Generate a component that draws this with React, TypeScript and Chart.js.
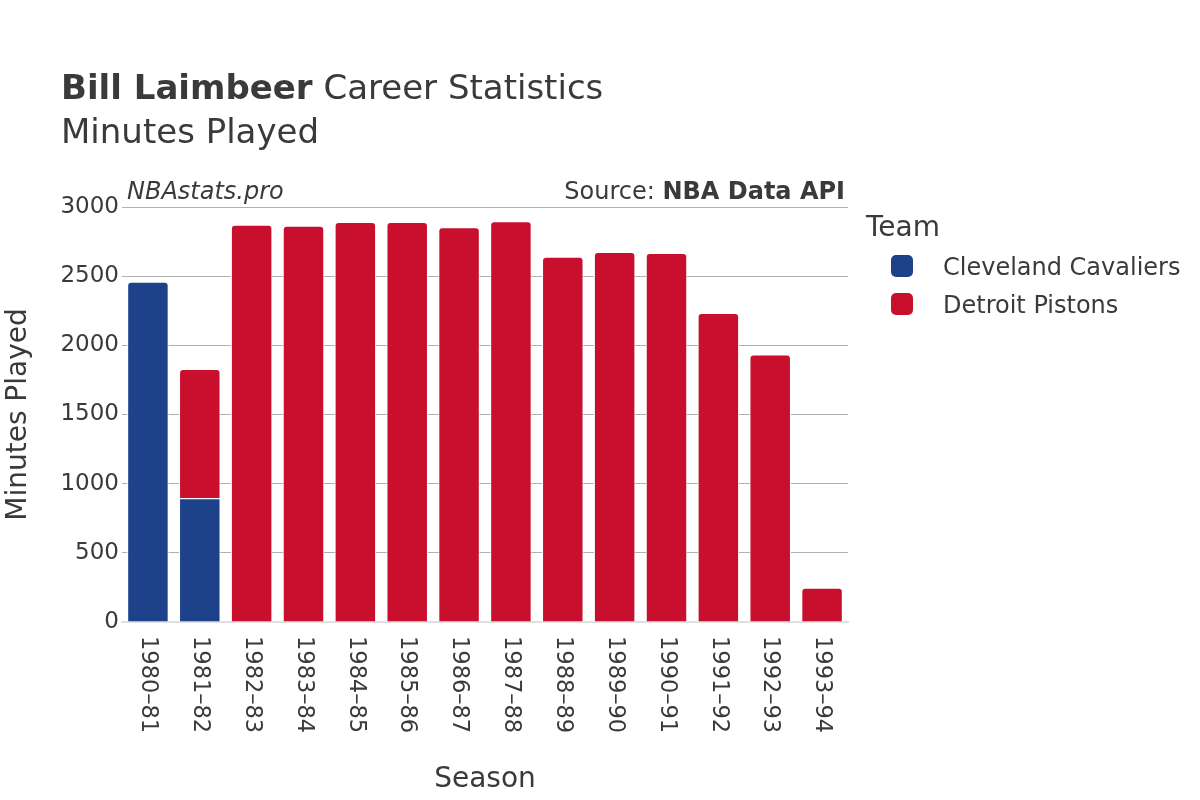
import React, { useEffect, useRef } from "react";
import { Chart, registerables } from "chart.js";

Chart.register(...registerables);

const seasons = [
  "1980–81", "1981–82", "1982–83", "1983–84", "1984–85", "1985–86", "1986–87",
  "1987–88", "1988–89", "1989–90", "1990–91", "1991–92", "1992–93", "1993–94",
];
const cavaliers = [2460, 894, null, null, null, null, null, null, null, null, null, null, null, null];
const pistons = [null, 935, 2871, 2864, 2892, 2891, 2854, 2897, 2640, 2675, 2668, 2234, 1933, 248];
const yTicks = [0, 500, 1000, 1500, 2000, 2500, 3000];

const FONT = "'DejaVu Sans', sans-serif";
const TEXT = "#3a3a3a";
const BLUE = "#1d428a";
const RED = "#c8102e";

const xLabelPlugin = {
  id: "xLabels",
  afterDraw(chart: any) {
    const ctx = chart.ctx;
    const xs = chart.scales.x;
    ctx.save();
    ctx.font = `22.5px ${FONT}`;
    ctx.fillStyle = TEXT;
    ctx.textAlign = "left";
    ctx.textBaseline = "middle";
    seasons.forEach((s, i) => {
      const x = xs.getPixelForValue(i);
      ctx.save();
      ctx.translate(x, chart.chartArea.bottom + 14);
      ctx.rotate(Math.PI / 2);
      ctx.fillText(s, 0, 0);
      ctx.restore();
    });
    ctx.restore();
  },
};

export default function App() {
  const ref = useRef<HTMLCanvasElement>(null);
  useEffect(() => {
    if (!ref.current) return;
    const chart = new Chart(ref.current, {
      type: "bar",
      data: {
        labels: seasons,
        datasets: [
          {
            label: "Cleveland Cavaliers",
            data: cavaliers as any,
            backgroundColor: BLUE,
            borderColor: "#ffffff",
            borderWidth: 1,
            borderRadius: 4,
          },
          {
            label: "Detroit Pistons",
            data: pistons as any,
            backgroundColor: RED,
            borderColor: "#ffffff",
            borderWidth: 1,
            borderRadius: 4,
          },
        ],
      },
      options: {
        responsive: false,
        animation: false,
        layout: { padding: { top: 207, right: 352, bottom: 0, left: 0 } },
        datasets: { bar: { barPercentage: 0.8, categoryPercentage: 1 } },
        plugins: {
          legend: { display: false },
          tooltip: { enabled: false },
          title: { display: false },
        },
        scales: {
          x: {
            stacked: true,
            offset: true,
            grid: { display: false },
            border: { display: true, color: "#e0e0e0", width: 2 },
            ticks: { display: false },
            title: {
              display: true,
              text: "Season",
              color: TEXT,
              font: { family: FONT, size: 28 },
              padding: { top: 0, bottom: 3 },
            },
            afterFit: (s: any) => { s.height = 178; },
          },
          y: {
            stacked: true,
            min: 0,
            max: 3000,
            afterBuildTicks: (s: any) => { s.ticks = yTicks.map((v) => ({ value: v })); },
            grid: { color: "#b0b0b0", lineWidth: 1, drawTicks: false },
            border: { display: false },
            ticks: {
              color: TEXT,
              font: { family: FONT, size: 23 },
              padding: 3,
              callback: (v: any) => String(v),
            },
            title: {
              display: true,
              text: "Minutes Played",
              color: TEXT,
              font: { family: FONT, size: 28 },
              padding: { top: 2, bottom: 4 },
            },
            afterFit: (s: any) => { s.width = 122; },
          },
        },
      },
      plugins: [xLabelPlugin],
    });
    return () => chart.destroy();
  }, []);

  const abs = (style: React.CSSProperties): React.CSSProperties => ({
    position: "absolute",
    whiteSpace: "nowrap",
    fontFamily: FONT,
    color: TEXT,
    lineHeight: 1,
    ...style,
  });

  return (
    <div style={{ position: "absolute", left: 0, top: 0, width: 1200, height: 800, background: "#fff" }}>
      <canvas ref={ref} width={1200} height={800} style={{ position: "absolute", left: 0, top: 0 }} />
      <div style={abs({ left: 61, top: 70, fontSize: 34 })}>
        <b>Bill Laimbeer</b> Career Statistics
      </div>
      <div style={abs({ left: 61, top: 114, fontSize: 34 })}>Minutes Played</div>
      <div style={abs({ left: 127, top: 179, fontSize: 24, fontStyle: "italic" })}>NBAstats.pro</div>
      <div style={abs({ right: 1200 - 845, top: 179, fontSize: 24 })}>
        Source: <b>NBA Data API</b>
      </div>
      <div style={abs({ left: 866, top: 213, fontSize: 28 })}>Team</div>
      {[
        { name: "Cleveland Cavaliers", color: BLUE, top: 255 },
        { name: "Detroit Pistons", color: RED, top: 293 },
      ].map((it) => (
        <React.Fragment key={it.name}>
          <div
            style={{
              position: "absolute",
              left: 891,
              top: it.top,
              width: 22,
              height: 22,
              borderRadius: 5,
              background: it.color,
            }}
          />
          <div style={abs({ left: 943, top: it.top, fontSize: 24 })}>{it.name}</div>
        </React.Fragment>
      ))}
    </div>
  );
}
